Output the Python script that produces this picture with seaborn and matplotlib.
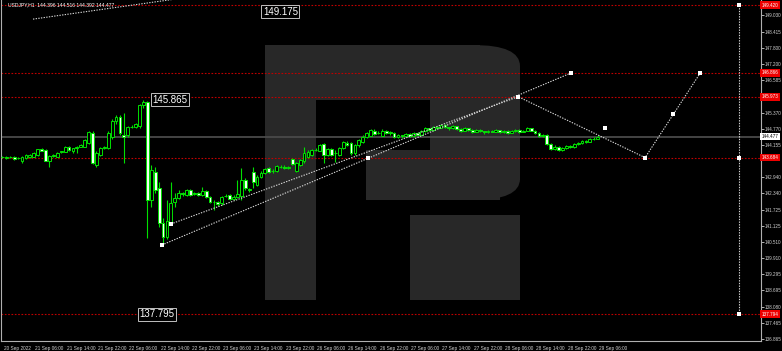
import matplotlib
matplotlib.use("Agg")
import matplotlib.pyplot as plt
import matplotlib.patches as mpatches
import matplotlib.transforms as mtransforms
import numpy as np
import pandas as pd
import seaborn as sns

# ---------------- data ----------------
symbol_header = "USDJPY,H1  144.396 144.516 144.392 144.477"

opens = [143.70,143.66,143.70,143.72,143.66,143.57,143.66,143.72,143.72,143.78,
         144.00,143.97,143.57,143.74,143.72,143.91,143.91,144.07,143.94,144.04,
         144.10,144.10,144.23,144.62,143.41,143.78,144.05,144.05,144.45,145.05,
         145.22,144.55,144.53,144.83,144.82,144.87,145.66,145.78,142.09,143.14,
         142.54,141.23,140.70,141.25,142.02,142.16,142.35,142.28,142.47,142.33,
         142.35,142.29,142.42,142.22,142.03,142.02,141.96,142.24,142.28,142.13,
         142.20,142.23,142.84,142.50,143.15,142.65,142.95,143.10,143.28,143.18,
         143.20,143.33,143.35,143.28,143.62,143.20,143.42,143.57,143.72,143.78,
         143.96,143.95,144.18,143.78,143.99,143.84,143.79,144.03,144.25,144.22,
         143.85,144.14,144.28,144.47,144.51,144.70,144.60,144.51,144.69,144.65,
         144.60,144.45,144.52,144.48,144.58,144.50,144.62,144.55,144.68,144.78,
         144.72,144.85,144.80,144.90,144.82,144.78,144.86,144.75,144.70,144.78,
         144.72,144.66,144.74,144.68,144.63,144.70,144.66,144.72,144.64,144.70,
         144.62,144.68,144.73,144.65,144.70,144.78,144.70,144.62,144.50,144.55,
         144.20,144.02,144.10,143.98,144.05,144.12,144.08,144.18,144.22,144.30,
         144.28,144.38,144.396]
highs = [143.74,143.76,143.75,143.75,143.72,143.73,143.82,143.82,143.88,144.02,
         144.03,144.00,143.78,143.82,143.91,143.95,144.13,144.12,144.06,144.13,
         144.20,144.40,144.70,144.70,143.95,144.10,144.12,144.68,145.15,145.30,
         145.30,145.36,144.87,144.90,144.98,145.70,145.865,145.82,143.41,143.33,
         142.77,141.40,142.09,142.75,142.35,142.45,142.40,142.52,142.52,142.40,
         142.40,142.58,142.46,142.26,142.08,142.06,142.25,142.32,142.32,142.28,
         142.84,143.29,142.90,142.55,143.34,143.02,143.18,143.30,143.35,143.25,
         143.42,143.40,143.40,143.38,143.66,143.52,143.65,144.10,143.96,144.02,
         144.03,144.20,144.22,144.03,144.03,143.97,144.08,144.32,144.30,144.28,
         144.20,144.40,144.52,144.65,144.76,144.75,144.67,144.75,144.73,144.68,
         144.64,144.56,144.55,144.62,144.61,144.66,144.65,144.71,144.82,144.81,
         144.89,144.88,144.94,144.93,144.85,144.90,144.88,144.78,144.82,144.80,
         144.75,144.77,144.76,144.70,144.73,144.73,144.76,144.74,144.74,144.72,
         144.71,144.77,144.75,144.73,144.82,144.80,144.73,144.65,144.59,144.58,
         144.24,144.14,144.13,144.09,144.16,144.15,144.22,144.26,144.34,144.33,
         144.42,144.46,144.516]
lows = [143.66,143.63,143.67,143.60,143.63,143.49,143.63,143.68,143.70,143.76,
        143.92,143.55,143.33,143.72,143.70,143.87,143.89,143.95,143.85,143.86,
        144.08,144.08,144.20,143.45,143.33,143.75,144.00,144.02,144.40,144.95,
        144.55,143.48,144.45,144.78,144.78,144.80,145.55,140.66,141.83,142.35,
        141.08,140.40,140.62,141.19,141.83,142.12,142.25,142.25,142.24,142.28,
        142.25,142.26,142.18,141.98,141.72,141.88,141.92,142.20,142.10,142.10,
        142.18,142.09,142.48,142.38,142.53,142.60,142.92,143.05,143.10,143.12,
        143.15,143.28,143.26,143.24,143.40,143.15,143.38,143.50,143.68,143.74,
        143.92,143.92,143.47,143.74,143.74,143.53,143.75,144.00,144.12,143.80,
        143.80,144.10,144.25,144.44,144.48,144.53,144.56,144.48,144.56,144.55,
        144.41,144.42,144.44,144.46,144.46,144.47,144.52,144.53,144.66,144.69,
        144.70,144.77,144.78,144.79,144.74,144.76,144.72,144.66,144.68,144.69,
        144.62,144.64,144.65,144.59,144.61,144.63,144.64,144.61,144.62,144.58,
        144.60,144.66,144.62,144.63,144.68,144.67,144.58,144.46,144.47,144.15,
        143.96,143.98,143.92,143.95,144.02,144.04,144.06,144.15,144.20,144.24,
        144.26,144.35,144.392]
closes = [143.69,143.72,143.71,143.63,143.68,143.71,143.78,143.79,143.85,144.00,
          143.94,143.57,143.76,143.78,143.85,143.92,144.10,143.97,144.03,144.10,
          144.16,144.35,144.65,143.50,143.86,144.05,144.07,144.60,145.05,145.22,
          144.60,144.45,144.83,144.85,144.93,145.66,145.78,142.09,143.22,142.47,
          141.23,140.70,141.30,141.98,142.16,142.35,142.30,142.47,142.28,142.35,
          142.29,142.42,142.22,142.03,142.02,141.93,142.21,142.26,142.13,142.22,
          142.33,142.84,142.53,142.45,142.78,142.97,143.12,143.25,143.15,143.20,
          143.37,143.35,143.30,143.34,143.44,143.48,143.60,143.87,143.91,143.97,
          143.98,144.16,143.78,143.99,143.78,143.86,144.03,144.28,144.16,143.85,
          144.16,144.35,144.47,144.60,144.72,144.57,144.62,144.70,144.60,144.60,
          144.45,144.52,144.48,144.58,144.50,144.62,144.55,144.68,144.78,144.72,
          144.85,144.80,144.90,144.82,144.78,144.86,144.75,144.70,144.78,144.72,
          144.66,144.74,144.68,144.63,144.70,144.66,144.72,144.64,144.70,144.62,
          144.68,144.73,144.65,144.70,144.78,144.70,144.62,144.50,144.55,144.20,
          144.02,144.10,143.98,144.05,144.12,144.08,144.18,144.22,144.30,144.28,
          144.38,144.40,144.477]

date_labels = ["20 Sep 2022", "21 Sep 06:00", "21 Sep 14:00", "21 Sep 22:00",
               "22 Sep 06:00", "22 Sep 14:00", "22 Sep 22:00", "23 Sep 06:00",
               "23 Sep 14:00", "23 Sep 22:00", "26 Sep 06:00", "26 Sep 14:00",
               "26 Sep 22:00", "27 Sep 06:00", "27 Sep 14:00", "27 Sep 22:00",
               "28 Sep 06:00", "28 Sep 14:00", "28 Sep 22:00", "29 Sep 06:00"]
date_label_bars = [0, 8, 16, 24, 32, 40, 48, 56, 64, 72, 80, 88, 96, 104, 112,
                   120, 128, 136, 144, 152]

price_ticks = [149.030, 148.415, 147.800, 147.200, 146.585, 145.370, 144.770,
               144.155, 142.940, 142.340, 141.725, 141.125, 140.510, 139.910,
               139.295, 138.695, 138.080, 137.465, 136.865]
level_prices = [149.420, 146.866, 145.973, 143.684, 137.794]
current_price = 144.477

# forecast / trend lines (bar position, price)
trend1_bars = [40.7, 145.2]
trend1_prices = [140.40, 146.866]
trend1_mid_bar = [93.4]
trend1_mid_price = [143.684]
path_bars = [43.0, 131.7, 164.1, 178.2]
path_prices = [141.19, 145.973, 143.684, 146.866]
path_extra_bars = [153.9, 171.3]
path_extra_prices = [144.80, 145.31]
topline_bars = [7.8, 55.0]
topline_prices = [148.89, 149.87]
vline_bar = 188.1
vline_prices = [149.420, 143.684, 137.794]

tag_texts = ["149.175", "145.865", "137.795"]
tag_bars = [66.5, 38.3, 35.0]
tag_prices = [149.175, 145.865, 137.795]

# ---------------- styling ----------------
sns.set_theme(style="dark")
plt.rcParams['font.family'] = ['Liberation Sans', 'DejaVu Sans']

W, H = 782, 351
fig = plt.figure(figsize=(W / 100, H / 100), dpi=100, facecolor="black")
ax = fig.add_axes([1 / W, 10 / H, 760 / W, 341 / H])
ax.set_facecolor("black")

# watermark logo (decorative, figure pixel coords), below the candles
def px_rect(x0, y0, x1, y1, **kw):
    return mpatches.Rectangle((x0 / W, 1 - y1 / H), (x1 - x0) / W, (y1 - y0) / H,
                              transform=fig.transFigure, **kw)

wm = "#282828"
for r in [(265, 45, 316, 300), (265, 45, 480, 100), (430, 85, 520, 180),
          (366, 150, 500, 200), (410, 215, 520, 300)]:
    ax.add_patch(px_rect(*r, facecolor=wm, edgecolor="none", zorder=0.5))
ax.add_patch(mpatches.FancyBboxPatch((440 / W, 1 - 200 / H), 80 / W, 155 / H,
             boxstyle="round,pad=0,rounding_size=0.06", transform=fig.transFigure,
             facecolor=wm, edgecolor="none", zorder=0.5))

n = len(opens)
xs = np.arange(n)
df = pd.DataFrame({"x": xs, "open": opens, "high": highs, "low": lows, "close": closes})
bull = df["close"] >= df["open"]

green = "#00e000"
ax.vlines(df["x"], df["low"], df["high"], color=green, lw=0.8, zorder=3)
body_bottom = np.minimum(df["open"], df["close"])
body_h = np.abs(df["close"] - df["open"])
ax.bar(df["x"][bull], body_h[bull], bottom=body_bottom[bull], width=0.72,
       color="black", edgecolor=green, linewidth=0.7, zorder=4)
ax.bar(df["x"][~bull], body_h[~bull], bottom=body_bottom[~bull], width=0.72,
       color="#f2fff2", edgecolor=green, linewidth=0.7, zorder=4)

# level lines
for lp in level_prices:
    ax.axhline(lp, color="#c00000", lw=0.8, ls=(0, (1.5, 1.5)), zorder=2)
ax.axhline(current_price, color="#4a4a4a", lw=1.3, zorder=1)

# trend / forecast lines via seaborn
lc = "#d8d8d8"
sns.lineplot(x=trend1_bars, y=trend1_prices, ax=ax, color=lc, lw=0.8,
             linestyle=(0, (1.2, 1.2)), zorder=5)
sns.lineplot(x=path_bars, y=path_prices, ax=ax, color=lc, lw=0.8, sort=False,
             linestyle=(0, (1.2, 1.2)), zorder=5)
sns.lineplot(x=topline_bars, y=topline_prices, ax=ax, color=lc, lw=0.8,
             linestyle=(0, (1.2, 1.2)), zorder=5)
ax.plot([vline_bar, vline_bar], [vline_prices[0], vline_prices[-1]], color=lc,
        lw=0.8, ls=(0, (1.2, 1.2)), zorder=5)
dots_x = trend1_bars + trend1_mid_bar + path_bars + path_extra_bars + [vline_bar] * 3
dots_y = trend1_prices + trend1_mid_price + path_prices + path_extra_prices + vline_prices
sns.scatterplot(x=dots_x, y=dots_y, ax=ax, color="white", marker="s", s=5,
                linewidth=0, zorder=6)

# value tags
for t, bx, py in zip(tag_texts, tag_bars, tag_prices):
    ax.text(bx, py, t, color="white", fontsize=7, va="center", ha="left", zorder=7,
            bbox=dict(boxstyle="square,pad=0.15", facecolor="black",
                      edgecolor="#c0c0c0", linewidth=0.7))

ax.set_xlim(-0.38, 193.7)
ax.set_ylim(136.791, 149.609)

# axes styling
for s in ["left", "bottom", "right", "top"]:
    ax.spines[s].set_color("#b0b0b0")
    ax.spines[s].set_linewidth(0.8)
ax.spines["top"].set_visible(False)
ax.yaxis.tick_right()
ax.set_yticks(price_ticks)
ax.set_yticklabels([f"{p:.3f}" for p in price_ticks])
ax.tick_params(axis="y", colors="#d0d0d0", labelsize=3.3, length=2, width=0.6,
               pad=0.8, direction="out")
ax.set_xticks(date_label_bars)
ax.set_xticklabels(date_labels)
ax.tick_params(axis="x", colors="#d0d0d0", labelsize=3.4, length=3, width=0.6,
               pad=0.5, direction="out")
offset = mtransforms.ScaledTranslation(1.0 / 72, 0, fig.dpi_scale_trans)
for lbl in ax.get_xticklabels():
    lbl.set_horizontalalignment("left")
    lbl.set_transform(lbl.get_transform() + offset)
ax.grid(False)
ax.set_xlabel("")
ax.set_ylabel("")

# right-side price boxes
ytrans = mtransforms.blended_transform_factory(ax.transAxes, ax.transData)
for lp in level_prices:
    ax.text(1.001, lp, f"{lp:.3f}", transform=ytrans, fontsize=3.3, color="white",
            va="center", ha="left", zorder=8, clip_on=False,
            bbox=dict(boxstyle="square,pad=0.3", facecolor="#ee0000", edgecolor="none"))
ax.text(1.001, current_price, f"{current_price:.3f}", transform=ytrans, fontsize=3.3,
        color="black", va="center", ha="left", zorder=8, clip_on=False,
        bbox=dict(boxstyle="square,pad=0.3", facecolor="white", edgecolor="none"))

fig.text(8 / W, 1 - 5 / H, symbol_header, color="white", fontsize=3.6,
         va="center", ha="left")

fig.savefig("out.png", dpi=100, facecolor="black")
